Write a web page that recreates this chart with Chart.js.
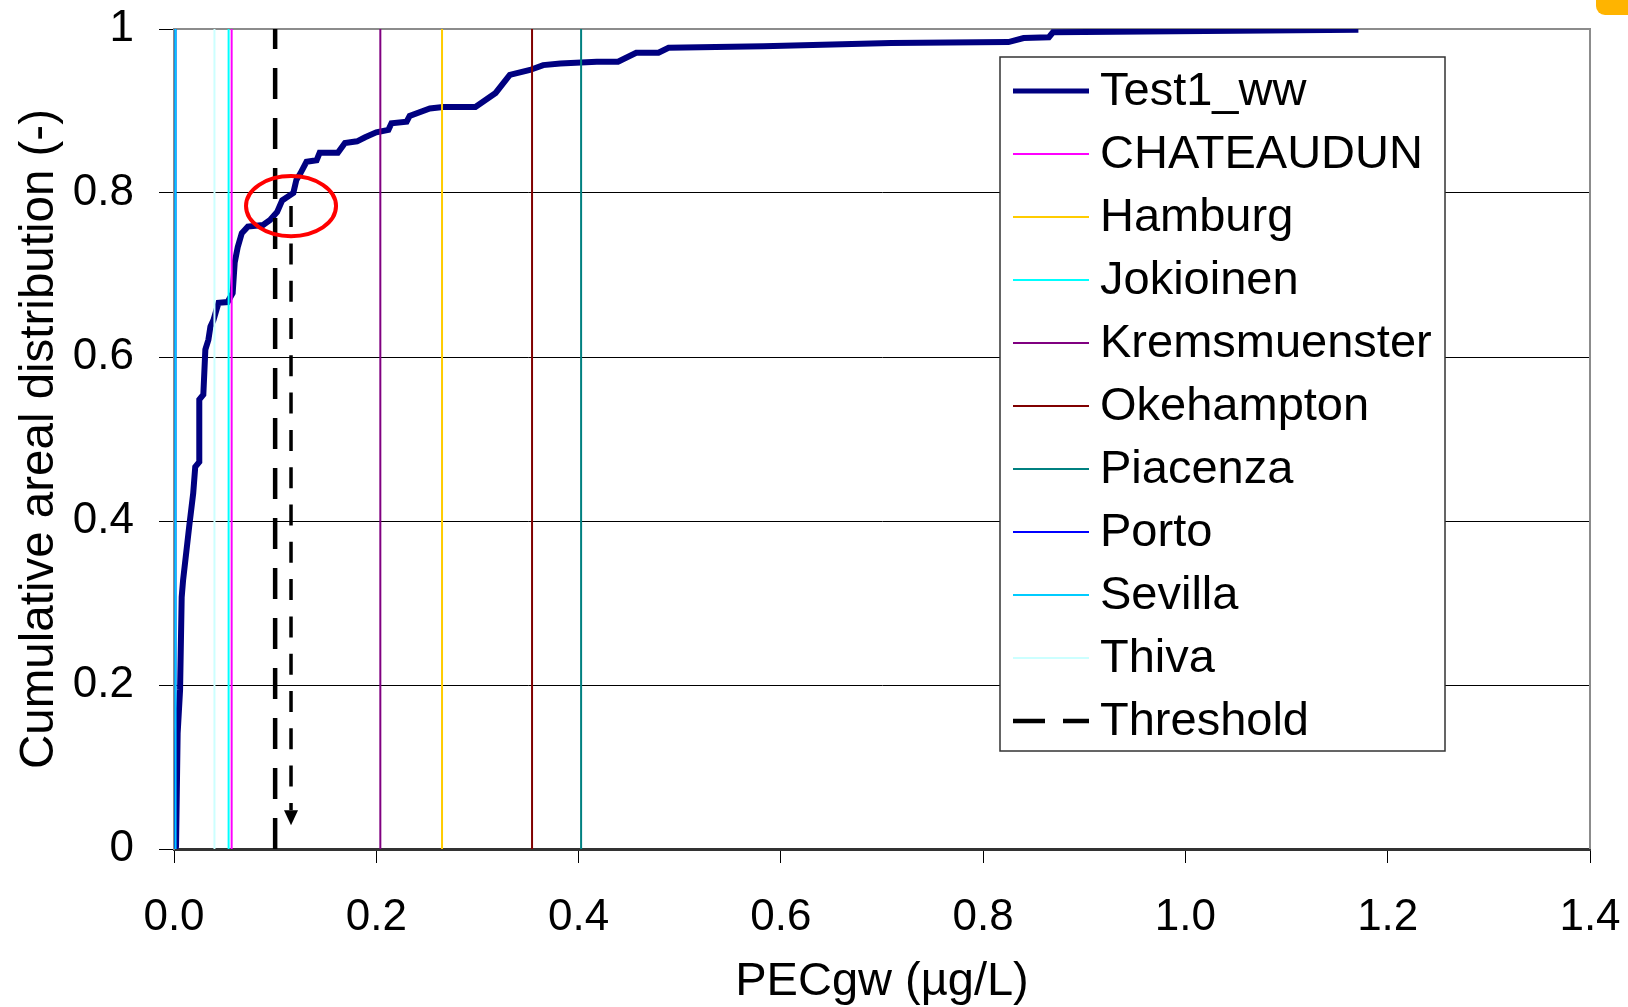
<!DOCTYPE html>
<html>
<head>
<meta charset="utf-8">
<title>PECgw cumulative areal distribution</title>
<script src="https://cdn.jsdelivr.net/npm/chart.js@4.4.1/dist/chart.umd.min.js"></script>
<style>
  html, body { margin: 0; padding: 0; background: #fff; }
  #wrap { position: relative; width: 1628px; height: 1007px; }
  #corner { position: absolute; left: 1596px; top: 0; width: 32px; height: 15px;
            background: #FFB400; border-bottom-left-radius: 9px; }
</style>
</head>
<body>
<div id="wrap">
  <canvas id="cdf" width="1628" height="1007"></canvas>
  <div id="corner"></div>
</div>
<script>
// Test1_ww: cumulative areal distribution vs PECgw (µg/L)
const curveX = [0.001, 0.002, 0.0036, 0.006, 0.0076, 0.009, 0.015, 0.019, 0.021, 0.025,
  0.025, 0.029, 0.031, 0.034, 0.036, 0.039, 0.044, 0.053, 0.058, 0.060,
  0.063, 0.067, 0.073, 0.088, 0.095, 0.102, 0.107, 0.112, 0.118, 0.121,
  0.125, 0.131, 0.141, 0.144, 0.162, 0.169, 0.181, 0.189, 0.200, 0.212,
  0.215, 0.230, 0.233, 0.253, 0.266, 0.298, 0.318, 0.332, 0.352, 0.365,
  0.382, 0.418, 0.439, 0.457, 0.479, 0.489, 0.583, 0.709, 0.825, 0.840,
  0.865, 0.869, 1.171];
const curveY = [0.000, 0.003, 0.141, 0.194, 0.307, 0.328, 0.393, 0.434, 0.466, 0.472,
  0.548, 0.554, 0.609, 0.621, 0.637, 0.645, 0.666, 0.667, 0.678, 0.715,
  0.734, 0.751, 0.759, 0.761, 0.767, 0.777, 0.791, 0.795, 0.800, 0.816,
  0.824, 0.838, 0.840, 0.849, 0.849, 0.861, 0.863, 0.868, 0.874, 0.877,
  0.885, 0.887, 0.894, 0.903, 0.905, 0.905, 0.922, 0.944, 0.950, 0.956,
  0.958, 0.960, 0.960, 0.971, 0.971, 0.977, 0.979, 0.983, 0.984, 0.989,
  0.990, 0.996, 0.999];

// FOCUS scenario PECgw values, drawn as vertical lines
const stationNames = ['CHATEAUDUN', 'Hamburg', 'Jokioinen', 'Kremsmuenster', 'Okehampton',
  'Piacenza', 'Porto', 'Sevilla', 'Thiva'];
const stationPEC = [0.057, 0.265, 0.054, 0.204, 0.354, 0.4025, 0.0015, 0.0015, 0.040];
const stationColors = ['#FF00FF', '#FFCC00', '#00FFFF', '#800080', '#800000',
  '#008080', '#0000FF', '#00CCFF', '#CCFFFF'];

const thresholdPEC = 0.1;

const xTickValues = [0, 0.2, 0.4, 0.6, 0.8, 1.0, 1.2, 1.4];
const xTickLabels = ['0.0', '0.2', '0.4', '0.6', '0.8', '1.0', '1.2', '1.4'];
const yTickValues = [0, 0.2, 0.4, 0.6, 0.8, 1];
const yTickLabels = ['0', '0.2', '0.4', '0.6', '0.8', '1'];

// where the curve crosses the threshold: ring + arrow down to the x axis
const markX = 0.1157;
const markY = 0.784;
const arrowTipY = 0.029;

const FONT = "'Liberation Sans', Arial, sans-serif";

const datasets = [{
  label: 'Test1_ww',
  data: curveX.map((x, i) => ({ x: x, y: curveY[i] })),
  borderColor: '#000080',
  borderWidth: 6,
  pointRadius: 0,
  showLine: true,
  order: 20
}];
stationNames.forEach((name, i) => {
  datasets.push({
    label: name,
    data: [{ x: stationPEC[i], y: 0 }, { x: stationPEC[i], y: 1 }],
    borderColor: stationColors[i],
    borderWidth: 2,
    pointRadius: 0,
    showLine: true,
    order: 19 - i
  });
});
datasets.push({
  label: 'Threshold',
  data: [{ x: thresholdPEC, y: 0 }, { x: thresholdPEC, y: 1 }],
  borderColor: '#000',
  borderWidth: 4.5,
  borderDash: [31, 19],
  pointRadius: 0,
  showLine: true,
  order: 0
});

// grey frame on top and right of the plot area
const framePlugin = {
  id: 'frame',
  beforeDatasetsDraw(chart) {
    const { ctx, chartArea: a } = chart;
    ctx.save();
    ctx.strokeStyle = '#8c8c8c';
    ctx.lineWidth = 2;
    ctx.beginPath();
    ctx.moveTo(a.left, a.top);
    ctx.lineTo(a.right, a.top);
    ctx.lineTo(a.right, a.bottom);
    ctx.stroke();
    ctx.restore();
  }
};

// red ring around the crossing and the dashed arrow below it
const calloutPlugin = {
  id: 'callout',
  afterDatasetsDraw(chart) {
    const { ctx } = chart;
    const xs = chart.scales.x, ys = chart.scales.y;
    const cx = xs.getPixelForValue(markX);
    const cy = ys.getPixelForValue(markY);
    const tipY = ys.getPixelForValue(arrowTipY);
    const rx = xs.getPixelForValue(markX + 0.0445) - cx;
    const ry = cy - ys.getPixelForValue(markY + 0.0366);

    ctx.save();
    // arrow shaft
    ctx.strokeStyle = '#000';
    ctx.lineWidth = 3.5;
    ctx.setLineDash([21, 16.3]);
    ctx.beginPath();
    ctx.moveTo(cx, cy);
    ctx.lineTo(cx, tipY - 15);
    ctx.stroke();
    ctx.setLineDash([]);
    // arrow head
    ctx.fillStyle = '#000';
    ctx.beginPath();
    ctx.moveTo(cx - 7, tipY - 15);
    ctx.lineTo(cx + 7, tipY - 15);
    ctx.lineTo(cx, tipY);
    ctx.closePath();
    ctx.fill();
    // ring
    ctx.strokeStyle = '#FF0000';
    ctx.lineWidth = 4;
    ctx.beginPath();
    ctx.ellipse(cx, cy, rx, ry, 0, 0, Math.PI * 2);
    ctx.stroke();
    ctx.restore();
  }
};

// boxed legend inside the plot area
const legendBoxPlugin = {
  id: 'legendBox',
  afterDraw(chart) {
    const { ctx } = chart;
    const box = { left: 1000, top: 57, right: 1445, bottom: 751 };
    const rowTop = 91, rowStep = 63;
    ctx.save();
    ctx.fillStyle = '#fff';
    ctx.fillRect(box.left, box.top, box.right - box.left, box.bottom - box.top);
    ctx.strokeStyle = '#333';
    ctx.lineWidth = 1.5;
    ctx.strokeRect(box.left, box.top, box.right - box.left, box.bottom - box.top);

    ctx.font = '47px ' + FONT;
    ctx.textBaseline = 'middle';
    ctx.textAlign = 'left';
    chart.data.datasets.forEach((ds, i) => {
      const y = rowTop + i * rowStep;
      ctx.strokeStyle = ds.borderColor;
      ctx.lineWidth = Math.min(ds.borderWidth, 5);
      ctx.setLineDash(ds.borderDash ? [32, 18] : []);
      ctx.beginPath();
      ctx.moveTo(1013, y);
      ctx.lineTo(1089, y);
      ctx.stroke();
      ctx.setLineDash([]);
      ctx.fillStyle = '#000';
      ctx.fillText(ds.label, 1100, y + 1);
    });
    ctx.restore();
  }
};

new Chart(document.getElementById('cdf'), {
  type: 'scatter',
  data: { datasets: datasets },
  plugins: [framePlugin, calloutPlugin, legendBoxPlugin],
  options: {
    responsive: false,
    devicePixelRatio: 1,
    animation: false,
    layout: { padding: { top: 29, right: 38, left: 0, bottom: 0 } },
    plugins: {
      legend: { display: false },
      tooltip: { enabled: false }
    },
    elements: { line: { tension: 0, borderCapStyle: 'butt' } },
    scales: {
      x: {
        type: 'linear',
        min: 0,
        max: 1.4,
        afterBuildTicks: s => { s.ticks = xTickValues.map(v => ({ value: v })); },
        afterFit: s => { s.height = 158; s.paddingLeft = 0; s.paddingRight = 0; },
        ticks: {
          color: '#000',
          font: { family: FONT, size: 44, lineHeight: 1 },
          padding: 33,
          maxRotation: 0,
          callback: (v, i) => xTickLabels[i]
        },
        grid: {
          drawOnChartArea: false,
          drawTicks: true,
          tickLength: 14,
          tickColor: '#000',
          lineWidth: 1
        },
        border: { color: '#333', width: 3 },
        title: {
          display: true,
          text: 'PECgw (µg/L)',
          color: '#000',
          font: { family: FONT, size: 47, lineHeight: 1 },
          padding: { top: 0, bottom: 1 }
        }
      },
      y: {
        type: 'linear',
        min: 0,
        max: 1,
        afterBuildTicks: s => { s.ticks = yTickValues.map(v => ({ value: v })); },
        afterFit: s => { s.width = 174; s.paddingTop = 0; s.paddingBottom = 0; },
        ticks: {
          color: '#000',
          font: { family: FONT, size: 44 },
          padding: 25,
          callback: (v, i) => yTickLabels[i]
        },
        grid: {
          color: c => c.tick.value === 0 ? 'rgba(0,0,0,0)' : (c.tick.value === 1 ? '#8c8c8c' : '#000'),
          lineWidth: 1,
          drawTicks: true,
          tickLength: 15,
          tickColor: '#000'
        },
        border: { color: '#8c8c8c', width: 2 },
        title: {
          display: true,
          text: 'Cumulative areal distribution (-)',
          color: '#000',
          font: { family: FONT, size: 47.5, lineHeight: 1 },
          padding: { top: 16, bottom: 0 }
        }
      }
    }
  }
});
</script>
</body>
</html>
